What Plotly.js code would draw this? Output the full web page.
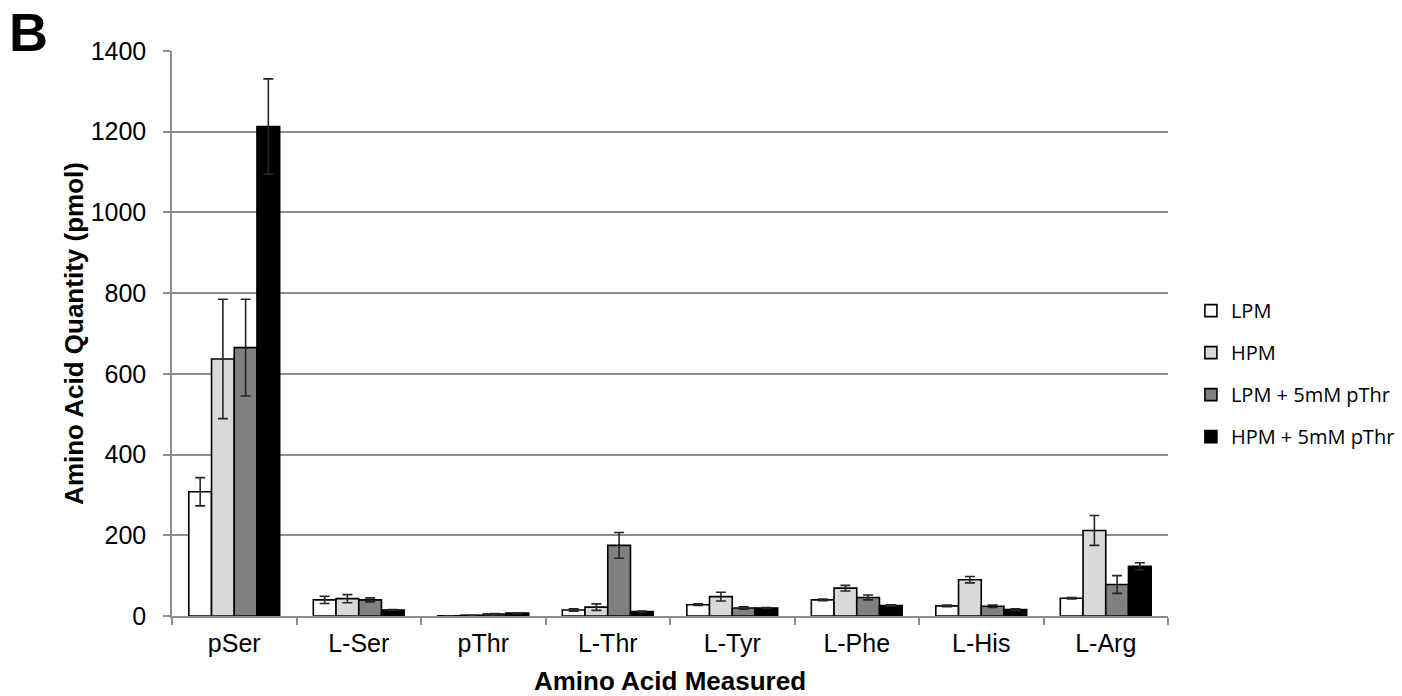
<!DOCTYPE html>
<html><head><meta charset="utf-8">
<script src="https://cdn.plot.ly/plotly-3.0.1.min.js"></script>
<style>body{margin:0;background:#fff}#chart{width:1402px;height:696px}</style>
</head><body><div id="chart"></div>
<script>
const categories = ["pSer","L-Ser","pThr","L-Thr","L-Tyr","L-Phe","L-His","L-Arg"];
const seriesNames = ["LPM","HPM","LPM + 5mM pThr","HPM + 5mM pThr"];
const lpm      = [308, 40, 0.5, 15, 28, 40, 25, 44];
const lpmErr   = [35, 9, 0, 3, 2, 2, 2, 2];
const hpm      = [637, 43, 2, 22, 48, 69, 90, 212];
const hpmErr   = [148, 10, 0, 8, 11, 7, 8, 37];
const lpmP     = [665, 40, 5, 175, 20, 46, 24, 78];
const lpmPErr  = [120, 5, 1, 32, 3, 6, 3, 22];
const hpmP     = [1213, 15, 7, 11, 20, 26, 16, 123];
const hpmPErr  = [118, 1, 1, 1, 1, 2, 2, 9];
const fills = ["#ffffff","#d9d9d9","#808080","#000000"];

const vals = [lpm, hpm, lpmP, hpmP];
const errs = [lpmErr, hpmErr, lpmPErr, hpmPErr];
const traces = vals.map((v,i)=>({
  type:"bar", name:seriesNames[i], x:categories, y:v, legendgroup:"g"+i,
  marker:{color:fills[i], line:{color:"#000", width:1.6}},
  error_y:{type:"data", array:errs[i], visible:true, color:"#262626", thickness:1.6, width:5}
}));

const layout = {
  width:1402, height:696,
  margin:{l:172, r:234, t:51, b:80, autoexpand:false},
  paper_bgcolor:"#fff", plot_bgcolor:"#fff",
  barmode:"group", bargap:0.27, bargroupgap:0,
  font:{family:"Liberation Sans, Arial, sans-serif", size:25, color:"#000"},
  xaxis:{
    tickson:"boundaries", ticks:"outside", ticklen:7, tickcolor:"#8c8c8c", tickwidth:1.5,
    showline:true, linecolor:"#8c8c8c", linewidth:1.5, showgrid:false,
    tickfont:{size:25}, ticklabelstandoff:4,
    title:{text:"<b>Amino Acid Measured</b>", font:{size:26}, standoff:16}
  },
  yaxis:{
    range:[0,1400], dtick:200, tick0:0,
    ticks:"outside", ticklen:7, tickcolor:"#8c8c8c", tickwidth:1.5,
    showline:true, linecolor:"#8c8c8c", linewidth:1.5,
    showgrid:true, gridcolor:"#8c8c8c", gridwidth:1.5, zeroline:false,
    tickfont:{size:25}, ticklabelstandoff:12,
    title:{text:"<b>Amino Acid Quantity (pmol)</b>", font:{size:26}, standoff:0}
  },
  legend:{x:1.023, y:0.575, xanchor:"left", yanchor:"top", traceorder:"grouped",
    tracegroupgap:13, font:{family:"Open Sans, sans-serif", size:20}, itemwidth:30},
  annotations:[{text:"<b>B</b>", xref:"paper", yref:"paper", x:-0.166, y:1.09,
    xanchor:"left", yanchor:"top", showarrow:false, font:{size:54, family:"Liberation Sans, Arial, sans-serif"}}]
};
Plotly.newPlot("chart", traces, layout, {displayModeBar:false});
</script></body></html>
